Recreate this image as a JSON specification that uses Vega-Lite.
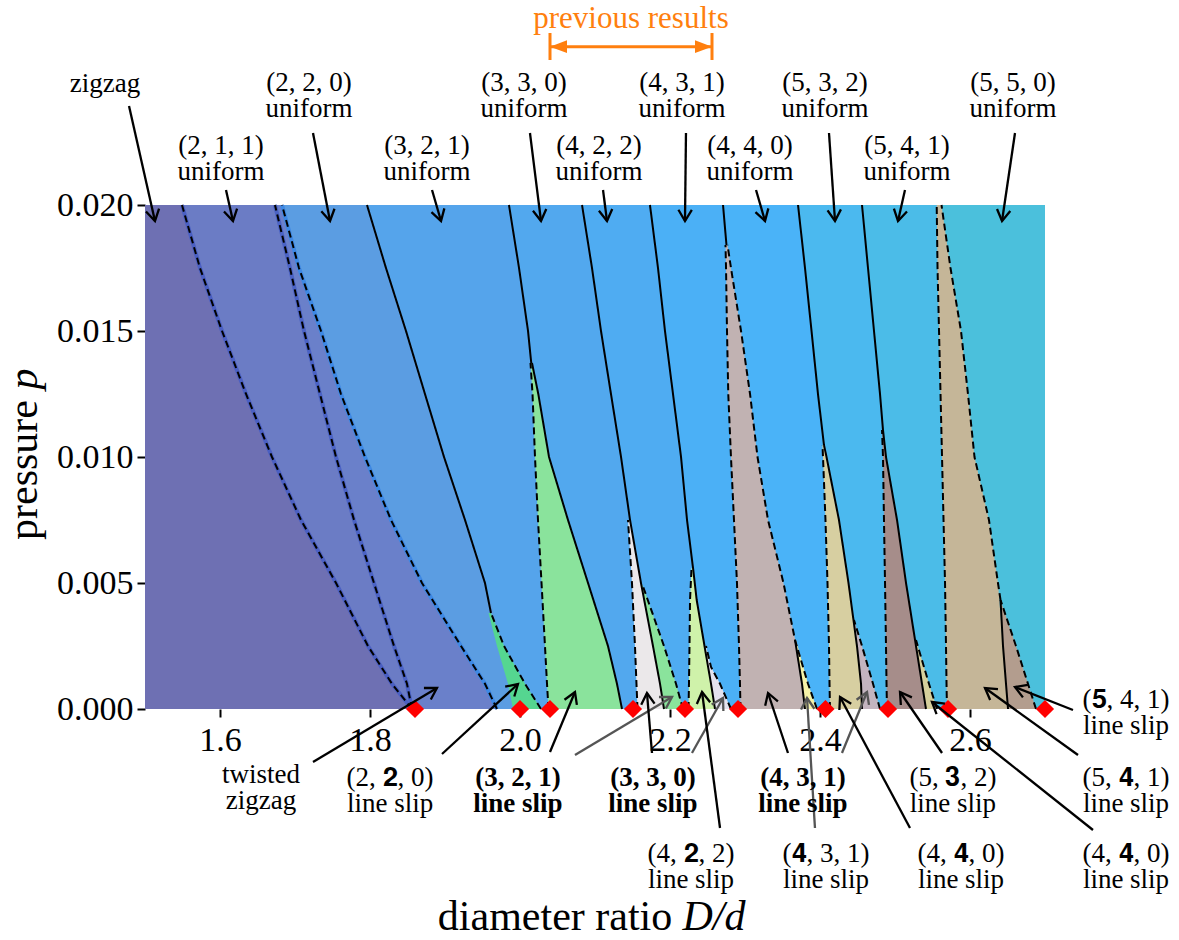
{
"$schema": "https://vega.github.io/schema/vega-lite/v6.json",
"width": 900, "height": 504,
"autosize": "none",
"padding": {"left": 145, "top": 205, "right": 134, "bottom": 231},
"background": "white",
"config": {"view": {"stroke": null, "fill": "#55a4eb"}},
"resolve": {"scale": {"color": "independent", "strokeDash": "independent"}},
"datasets": {
"bd": [
{"y":0.02,"b00":1.5,"b01":1.5493,"b02":1.6733,"b03":1.6827,"b04":1.796,"b05":1.9853,"b06":2.0827,"b07":2.1733,"b08":2.2707,"b09":2.3707,"b10":2.456,"b11":2.5556,"b12":2.7},
{"y":0.0175,"b00":1.5,"b01":1.5733,"b02":1.6933,"b03":1.7053,"b04":1.8213,"b05":1.9987,"b06":2.096,"b07":2.184,"b08":2.2747,"b09":2.38,"b10":2.464,"b11":2.5567,"b12":2.7},
{"y":0.015,"b00":1.5,"b01":1.6027,"b02":1.712,"b03":1.7347,"b04":1.848,"b05":2.0107,"b06":2.108,"b07":2.1933,"b08":2.276,"b09":2.3887,"b10":2.472,"b11":2.5587,"b12":2.7},
{"y":0.0125,"b00":1.5,"b01":1.6347,"b02":1.7333,"b03":1.7613,"b04":1.8733,"b05":2.024,"b06":2.1213,"b07":2.204,"b08":2.2777,"b09":2.3973,"b10":2.48,"b11":2.5607,"b12":2.7},
{"y":0.01,"b00":1.5,"b01":1.6693,"b02":1.7547,"b03":1.7933,"b04":1.8987,"b05":2.0387,"b06":2.1347,"b07":2.2147,"b08":2.2813,"b09":2.404,"b10":2.484,"b11":2.5627,"b12":2.7},
{"y":0.0075,"b00":1.5,"b01":1.708,"b02":1.7787,"b03":1.828,"b04":1.9267,"b05":2.064,"b06":2.1467,"b07":2.2227,"b08":2.2853,"b09":2.4073,"b10":2.4853,"b11":2.5647,"b12":2.7},
{"y":0.005,"b00":1.5,"b01":1.7547,"b02":1.8053,"b03":1.8693,"b04":1.9533,"b05":2.0907,"b06":2.1613,"b07":2.2327,"b08":2.2893,"b09":2.41,"b10":2.4867,"b11":2.5667,"b12":2.7},
{"y":0.0025,"b00":1.5,"b01":1.7973,"b02":1.832,"b03":1.9213,"b04":1.9787,"b05":2.1173,"b06":2.192,"b07":2.246,"b08":2.292,"b09":2.412,"b10":2.488,"b11":2.568,"b12":2.7},
{"y":0.001,"b00":1.5,"b01":1.8293,"b02":1.8493,"b03":1.9533,"b04":2.0067,"b05":2.1293,"b06":2.208,"b07":2.2547,"b08":2.2933,"b09":2.4127,"b10":2.4887,"b11":2.5687,"b12":2.7},
{"y":0,"b00":1.5,"b01":1.856,"b02":1.856,"b03":1.9693,"b04":2.028,"b05":2.136,"b06":2.2173,"b07":2.26,"b08":2.294,"b09":2.4133,"b10":2.4893,"b11":2.5693,"b12":2.7}
],
"sl": [
{"s":"s01","y":0.00381,"xl":1.958,"xr":1.9613},
{"s":"s01","y":0.0025,"xl":1.9693,"xr":1.9787},
{"s":"s01","y":0.001,"xl":1.984,"xr":2.0067},
{"s":"s01","y":0,"xl":1.9907,"xr":2.028},
{"s":"s02","y":0.01373,"xl":2.014,"xr":2.016},
{"s":"s02","y":0.0125,"xl":2.0167,"xr":2.0244},
{"s":"s02","y":0.01,"xl":2.02,"xr":2.0387},
{"s":"s02","y":0.0075,"xl":2.024,"xr":2.064},
{"s":"s02","y":0.005,"xl":2.0287,"xr":2.0907},
{"s":"s02","y":0.0025,"xl":2.0333,"xr":2.1173},
{"s":"s02","y":0.001,"xl":2.036,"xr":2.1293},
{"s":"s02","y":0,"xl":2.038,"xr":2.136},
{"s":"s03","y":0.0075,"xl":2.144,"xr":2.1467},
{"s":"s03","y":0.005,"xl":2.1493,"xr":2.1613},
{"s":"s03","y":0.0025,"xl":2.1533,"xr":2.1773},
{"s":"s03","y":0.001,"xl":2.1553,"xr":2.1867},
{"s":"s03","y":0,"xl":2.1567,"xr":2.192},
{"s":"s04","y":0.00492,"xl":2.1613,"xr":2.1633},
{"s":"s04","y":0.0025,"xl":2.1773,"xr":2.192},
{"s":"s04","y":0.001,"xl":2.1867,"xr":2.208},
{"s":"s04","y":0,"xl":2.192,"xr":2.2173},
{"s":"s05","y":0.005595,"xl":2.2287,"xr":2.2307},
{"s":"s05","y":0.004325,"xl":2.2267,"xr":2.2356},
{"s":"s05","y":0.0025,"xl":2.226,"xr":2.246},
{"s":"s05","y":0.001,"xl":2.2253,"xr":2.2547},
{"s":"s05","y":0,"xl":2.2247,"xr":2.26},
{"s":"s06","y":0.0025,"xl":2.246,"xr":2.248},
{"s":"s06","y":0.001667,"xl":2.2507,"xr":2.2547},
{"s":"s06","y":0.001,"xl":2.2547,"xr":2.2667},
{"s":"s06","y":0,"xl":2.26,"xr":2.2813},
{"s":"s07","y":0.018413,"xl":2.274,"xr":2.2767},
{"s":"s07","y":0.0175,"xl":2.2747,"xr":2.2813},
{"s":"s07","y":0.015,"xl":2.276,"xr":2.2947},
{"s":"s07","y":0.0125,"xl":2.2777,"xr":2.3067},
{"s":"s07","y":0.01,"xl":2.2813,"xr":2.3167},
{"s":"s07","y":0.0075,"xl":2.2853,"xr":2.3307},
{"s":"s07","y":0.005,"xl":2.2893,"xr":2.3513},
{"s":"s07","y":0.0025,"xl":2.292,"xr":2.3687},
{"s":"s07","y":0.001,"xl":2.2933,"xr":2.376},
{"s":"s07","y":0,"xl":2.294,"xr":2.38},
{"s":"s08","y":0.002738,"xl":2.3667,"xr":2.368},
{"s":"s08","y":0.001,"xl":2.376,"xr":2.384},
{"s":"s08","y":0,"xl":2.38,"xr":2.396},
{"s":"s09","y":0.010476,"xl":2.4033,"xr":2.4053},
{"s":"s09","y":0.01,"xl":2.404,"xr":2.4087},
{"s":"s09","y":0.0075,"xl":2.4073,"xr":2.4253},
{"s":"s09","y":0.005,"xl":2.41,"xr":2.438},
{"s":"s09","y":0.0025,"xl":2.412,"xr":2.4493},
{"s":"s09","y":0.001,"xl":2.4127,"xr":2.4547},
{"s":"s09","y":0,"xl":2.4133,"xr":2.456},
{"s":"s10","y":0.003532,"xl":2.444,"xr":2.4453},
{"s":"s10","y":0.0025,"xl":2.4493,"xr":2.456},
{"s":"s10","y":0.001,"xl":2.4547,"xr":2.4707},
{"s":"s10","y":0,"xl":2.456,"xr":2.48},
{"s":"s11","y":0.011071,"xl":2.4827,"xr":2.484},
{"s":"s11","y":0.01,"xl":2.484,"xr":2.488},
{"s":"s11","y":0.0075,"xl":2.4853,"xr":2.5027},
{"s":"s11","y":0.005,"xl":2.4867,"xr":2.5147},
{"s":"s11","y":0.0025,"xl":2.488,"xr":2.528},
{"s":"s11","y":0.001,"xl":2.4887,"xr":2.536},
{"s":"s11","y":0,"xl":2.4893,"xr":2.5413},
{"s":"s12","y":0.002738,"xl":2.5267,"xr":2.528},
{"s":"s12","y":0.001,"xl":2.536,"xr":2.5453},
{"s":"s12","y":0,"xl":2.5413,"xr":2.556},
{"s":"s13","y":0.02,"xl":2.5556,"xr":2.562},
{"s":"s13","y":0.0175,"xl":2.5567,"xr":2.574},
{"s":"s13","y":0.015,"xl":2.5587,"xr":2.588},
{"s":"s13","y":0.0125,"xl":2.5607,"xr":2.5973},
{"s":"s13","y":0.01,"xl":2.5627,"xr":2.606},
{"s":"s13","y":0.0075,"xl":2.5647,"xr":2.6253},
{"s":"s13","y":0.005,"xl":2.5667,"xr":2.6373},
{"s":"s13","y":0.0025,"xl":2.568,"xr":2.644},
{"s":"s13","y":0.001,"xl":2.5687,"xr":2.648},
{"s":"s13","y":0,"xl":2.5693,"xr":2.6507},
{"s":"s14","y":0.004325,"xl":2.6393,"xr":2.6407},
{"s":"s14","y":0.0025,"xl":2.644,"xr":2.6613},
{"s":"s14","y":0.001,"xl":2.648,"xr":2.6773},
{"s":"s14","y":0,"xl":2.6507,"xr":2.688}
],
"ln": [
{"id":"L4","k":"s","x":1.796,"y":0.02},{"id":"L4","k":"s","x":1.8213,"y":0.0175},{"id":"L4","k":"s","x":1.848,"y":0.015},{"id":"L4","k":"s","x":1.8733,"y":0.0125},{"id":"L4","k":"s","x":1.8987,"y":0.01},{"id":"L4","k":"s","x":1.9267,"y":0.0075},{"id":"L4","k":"s","x":1.9533,"y":0.005},{"id":"L4","k":"s","x":1.9613,"y":0.00381},
{"id":"L4b","k":"d","x":1.9613,"y":0.00381},{"id":"L4b","k":"d","x":1.9787,"y":0.0025},{"id":"L4b","k":"d","x":2.0067,"y":0.001},{"id":"L4b","k":"d","x":2.028,"y":0},
{"id":"L5","k":"s","x":1.9853,"y":0.02},{"id":"L5","k":"s","x":1.9987,"y":0.0175},{"id":"L5","k":"s","x":2.0107,"y":0.015},{"id":"L5","k":"s","x":2.015,"y":0.01373},
{"id":"L5a","k":"d","x":2.014,"y":0.01373},{"id":"L5a","k":"d","x":2.0167,"y":0.0125},{"id":"L5a","k":"d","x":2.02,"y":0.01},{"id":"L5a","k":"d","x":2.024,"y":0.0075},{"id":"L5a","k":"d","x":2.0287,"y":0.005},{"id":"L5a","k":"d","x":2.0333,"y":0.0025},{"id":"L5a","k":"d","x":2.036,"y":0.001},{"id":"L5a","k":"d","x":2.038,"y":0},
{"id":"L5b","k":"s","x":2.016,"y":0.01373},{"id":"L5b","k":"s","x":2.0244,"y":0.0125},{"id":"L5b","k":"s","x":2.0387,"y":0.01},{"id":"L5b","k":"s","x":2.064,"y":0.0075},{"id":"L5b","k":"s","x":2.0907,"y":0.005},{"id":"L5b","k":"s","x":2.1173,"y":0.0025},{"id":"L5b","k":"s","x":2.1293,"y":0.001},{"id":"L5b","k":"s","x":2.136,"y":0},
{"id":"L6","k":"s","x":2.0827,"y":0.02},{"id":"L6","k":"s","x":2.096,"y":0.0175},{"id":"L6","k":"s","x":2.108,"y":0.015},{"id":"L6","k":"s","x":2.1213,"y":0.0125},{"id":"L6","k":"s","x":2.1347,"y":0.01},{"id":"L6","k":"s","x":2.1467,"y":0.0075},{"id":"L6","k":"s","x":2.1613,"y":0.005},{"id":"L6","k":"s","x":2.1773,"y":0.0025},{"id":"L6","k":"s","x":2.1867,"y":0.001},{"id":"L6","k":"s","x":2.192,"y":0},
{"id":"L6a","k":"d","x":2.144,"y":0.0075},{"id":"L6a","k":"d","x":2.1493,"y":0.005},{"id":"L6a","k":"d","x":2.1533,"y":0.0025},{"id":"L6a","k":"d","x":2.1553,"y":0.001},{"id":"L6a","k":"d","x":2.1567,"y":0},
{"id":"L6b","k":"d","x":2.1633,"y":0.00492},{"id":"L6b","k":"d","x":2.192,"y":0.0025},{"id":"L6b","k":"d","x":2.208,"y":0.001},{"id":"L6b","k":"d","x":2.2173,"y":0},
{"id":"L7","k":"s","x":2.1733,"y":0.02},{"id":"L7","k":"s","x":2.184,"y":0.0175},{"id":"L7","k":"s","x":2.1933,"y":0.015},{"id":"L7","k":"s","x":2.204,"y":0.0125},{"id":"L7","k":"s","x":2.2147,"y":0.01},{"id":"L7","k":"s","x":2.2227,"y":0.0075},{"id":"L7","k":"s","x":2.2307,"y":0.005595},{"id":"L7","k":"s","x":2.2356,"y":0.004325},{"id":"L7","k":"s","x":2.246,"y":0.0025},{"id":"L7","k":"s","x":2.2547,"y":0.001},{"id":"L7","k":"s","x":2.26,"y":0},
{"id":"L7a","k":"d","x":2.2287,"y":0.005595},{"id":"L7a","k":"d","x":2.2267,"y":0.004325},{"id":"L7a","k":"d","x":2.226,"y":0.0025},{"id":"L7a","k":"d","x":2.2253,"y":0.001},{"id":"L7a","k":"d","x":2.2247,"y":0},
{"id":"L7b","k":"d","x":2.248,"y":0.0025},{"id":"L7b","k":"d","x":2.2547,"y":0.001667},{"id":"L7b","k":"d","x":2.2667,"y":0.001},{"id":"L7b","k":"d","x":2.2813,"y":0},
{"id":"L8","k":"s","x":2.2707,"y":0.02},{"id":"L8","k":"s","x":2.2753,"y":0.018413},
{"id":"L8a","k":"d","x":2.274,"y":0.018413},{"id":"L8a","k":"d","x":2.2747,"y":0.0175},{"id":"L8a","k":"d","x":2.276,"y":0.015},{"id":"L8a","k":"d","x":2.2777,"y":0.0125},{"id":"L8a","k":"d","x":2.2813,"y":0.01},{"id":"L8a","k":"d","x":2.2853,"y":0.0075},{"id":"L8a","k":"d","x":2.2893,"y":0.005},{"id":"L8a","k":"d","x":2.292,"y":0.0025},{"id":"L8a","k":"d","x":2.2933,"y":0.001},{"id":"L8a","k":"d","x":2.294,"y":0},
{"id":"L8b","k":"d","x":2.2767,"y":0.018413},{"id":"L8b","k":"d","x":2.2813,"y":0.0175},{"id":"L8b","k":"d","x":2.2947,"y":0.015},{"id":"L8b","k":"d","x":2.3067,"y":0.0125},{"id":"L8b","k":"d","x":2.3167,"y":0.01},{"id":"L8b","k":"d","x":2.3307,"y":0.0075},{"id":"L8b","k":"d","x":2.3513,"y":0.005},{"id":"L8b","k":"d","x":2.3667,"y":0.002738},{"id":"L8b","k":"d","x":2.384,"y":0.001},{"id":"L8b","k":"d","x":2.396,"y":0},
{"id":"L8c","k":"s","x":2.3667,"y":0.002738},{"id":"L8c","k":"s","x":2.376,"y":0.001},{"id":"L8c","k":"s","x":2.38,"y":0},
{"id":"L9","k":"s","x":2.3707,"y":0.02},{"id":"L9","k":"s","x":2.38,"y":0.0175},{"id":"L9","k":"s","x":2.3887,"y":0.015},{"id":"L9","k":"s","x":2.3973,"y":0.0125},{"id":"L9","k":"s","x":2.4053,"y":0.010476},{"id":"L9","k":"s","x":2.4087,"y":0.01},{"id":"L9","k":"s","x":2.4253,"y":0.0075},{"id":"L9","k":"s","x":2.438,"y":0.005},{"id":"L9","k":"s","x":2.4493,"y":0.0025},{"id":"L9","k":"s","x":2.4547,"y":0.001},{"id":"L9","k":"s","x":2.456,"y":0},
{"id":"L9a","k":"d","x":2.4033,"y":0.010476},{"id":"L9a","k":"d","x":2.404,"y":0.01},{"id":"L9a","k":"d","x":2.4073,"y":0.0075},{"id":"L9a","k":"d","x":2.41,"y":0.005},{"id":"L9a","k":"d","x":2.412,"y":0.0025},{"id":"L9a","k":"d","x":2.4127,"y":0.001},{"id":"L9a","k":"d","x":2.4133,"y":0},
{"id":"L9b","k":"d","x":2.4453,"y":0.003532},{"id":"L9b","k":"d","x":2.456,"y":0.0025},{"id":"L9b","k":"d","x":2.4707,"y":0.001},{"id":"L9b","k":"d","x":2.48,"y":0},
{"id":"L10","k":"s","x":2.456,"y":0.02},{"id":"L10","k":"s","x":2.464,"y":0.0175},{"id":"L10","k":"s","x":2.472,"y":0.015},{"id":"L10","k":"s","x":2.48,"y":0.0125},{"id":"L10","k":"s","x":2.484,"y":0.011071},{"id":"L10","k":"s","x":2.488,"y":0.01},{"id":"L10","k":"s","x":2.5027,"y":0.0075},{"id":"L10","k":"s","x":2.5147,"y":0.005},{"id":"L10","k":"s","x":2.528,"y":0.0025},{"id":"L10","k":"s","x":2.536,"y":0.001},{"id":"L10","k":"s","x":2.5413,"y":0},
{"id":"L10a","k":"d","x":2.4827,"y":0.011071},{"id":"L10a","k":"d","x":2.484,"y":0.01},{"id":"L10a","k":"d","x":2.4853,"y":0.0075},{"id":"L10a","k":"d","x":2.4867,"y":0.005},{"id":"L10a","k":"d","x":2.488,"y":0.0025},{"id":"L10a","k":"d","x":2.4887,"y":0.001},{"id":"L10a","k":"d","x":2.4893,"y":0},
{"id":"L10b","k":"d","x":2.528,"y":0.002738},{"id":"L10b","k":"d","x":2.5453,"y":0.001},{"id":"L10b","k":"d","x":2.556,"y":0},
{"id":"L11a","k":"d","x":2.5556,"y":0.02},{"id":"L11a","k":"d","x":2.5567,"y":0.0175},{"id":"L11a","k":"d","x":2.5587,"y":0.015},{"id":"L11a","k":"d","x":2.5607,"y":0.0125},{"id":"L11a","k":"d","x":2.5627,"y":0.01},{"id":"L11a","k":"d","x":2.5647,"y":0.0075},{"id":"L11a","k":"d","x":2.5667,"y":0.005},{"id":"L11a","k":"d","x":2.568,"y":0.0025},{"id":"L11a","k":"d","x":2.5687,"y":0.001},{"id":"L11a","k":"d","x":2.5693,"y":0},
{"id":"L11b","k":"d","x":2.562,"y":0.02},{"id":"L11b","k":"d","x":2.574,"y":0.0175},{"id":"L11b","k":"d","x":2.588,"y":0.015},{"id":"L11b","k":"d","x":2.5973,"y":0.0125},{"id":"L11b","k":"d","x":2.606,"y":0.01},{"id":"L11b","k":"d","x":2.6253,"y":0.0075},{"id":"L11b","k":"d","x":2.6373,"y":0.005},{"id":"L11b","k":"d","x":2.6407,"y":0.004325},
{"id":"L11c","k":"s","x":2.6407,"y":0.004325},{"id":"L11c","k":"s","x":2.644,"y":0.0025},{"id":"L11c","k":"s","x":2.648,"y":0.001},{"id":"L11c","k":"s","x":2.6507,"y":0},
{"id":"L11d","k":"d","x":2.6407,"y":0.004325},{"id":"L11d","k":"d","x":2.6613,"y":0.0025},{"id":"L11d","k":"d","x":2.6773,"y":0.001},{"id":"L11d","k":"d","x":2.688,"y":0}
],
"dm": [{"x":1.86},{"x":2.0},{"x":2.04},{"x":2.1507},{"x":2.22},{"x":2.2907},{"x":2.4073},{"x":2.4907},{"x":2.5707},{"x":2.7}],
"arr": [
{"x":1.4787,"y":0.023929,"x2":1.5133,"y2":0.019365,"c":"k"},
{"x":1.608,"y":0.020595,"x2":1.6173,"y2":0.019365,"c":"k"},
{"x":1.724,"y":0.022857,"x2":1.7467,"y2":0.019365,"c":"k"},
{"x":1.8827,"y":0.020595,"x2":1.8947,"y2":0.019365,"c":"k"},
{"x":2.0133,"y":0.022857,"x2":2.028,"y2":0.019365,"c":"k"},
{"x":2.1107,"y":0.020595,"x2":2.116,"y2":0.019365,"c":"k"},
{"x":2.2213,"y":0.022857,"x2":2.22,"y2":0.019365,"c":"k"},
{"x":2.3147,"y":0.020595,"x2":2.3267,"y2":0.019365,"c":"k"},
{"x":2.412,"y":0.022857,"x2":2.42,"y2":0.019365,"c":"k"},
{"x":2.5133,"y":0.020595,"x2":2.504,"y2":0.019365,"c":"k"},
{"x":2.66,"y":0.022857,"x2":2.6427,"y2":0.019365,"c":"k"},
{"x":1.724,"y":-0.002103,"x2":1.8893,"y2":0.000833,"c":"k"},
{"x":1.896,"y":-0.001786,"x2":1.9973,"y2":0.000992,"c":"k"},
{"x":2.04,"y":-0.001706,"x2":2.0733,"y2":0.000675,"c":"k"},
{"x":2.0733,"y":-0.001825,"x2":2.2027,"y2":0.000476,"c":"g"},
{"x":2.176,"y":-0.001746,"x2":2.1693,"y2":0.000635,"c":"k"},
{"x":2.2293,"y":-0.001746,"x2":2.2707,"y2":0.000437,"c":"g"},
{"x":2.3573,"y":-0.001746,"x2":2.3307,"y2":0.000635,"c":"k"},
{"x":2.4293,"y":-0.001746,"x2":2.4627,"y2":0.000675,"c":"g"},
{"x":2.5627,"y":-0.001746,"x2":2.5067,"y2":0.000675,"c":"k"},
{"x":2.744,"y":-0.001825,"x2":2.62,"y2":0.000833,"c":"k"},
{"x":2.7373,"y":-0.00004,"x2":2.66,"y2":0.000873,"c":"k"},
{"x":2.2667,"y":-0.004722,"x2":2.2427,"y2":0.000675,"c":"k"},
{"x":2.3933,"y":-0.004722,"x2":2.3827,"y2":0.000437,"c":"g"},
{"x":2.52,"y":-0.004722,"x2":2.4267,"y2":0.000476,"c":"k"},
{"x":2.764,"y":-0.004802,"x2":2.5493,"y2":0.000278,"c":"k"}
],
"top": [
{"x":1.4467,"y":0.024484,"t":["zigzag"]},
{"x":1.6013,"y":0.022024,"t":["(2, 1, 1)","uniform"]},
{"x":1.7187,"y":0.024524,"t":["(2, 2, 0)","uniform"]},
{"x":1.876,"y":0.022024,"t":["(3, 2, 1)","uniform"]},
{"x":2.0053,"y":0.024524,"t":["(3, 3, 0)","uniform"]},
{"x":2.1053,"y":0.022024,"t":["(4, 2, 2)","uniform"]},
{"x":2.216,"y":0.024524,"t":["(4, 3, 1)","uniform"]},
{"x":2.3067,"y":0.022024,"t":["(4, 4, 0)","uniform"]},
{"x":2.4067,"y":0.024524,"t":["(5, 3, 2)","uniform"]},
{"x":2.516,"y":0.022024,"t":["(5, 4, 1)","uniform"]},
{"x":2.6573,"y":0.024524,"t":["(5, 5, 0)","uniform"]}
],
"bot": [
{"x":1.6547,"y":-0.002937,"t":["twisted","zigzag"],"w":"n"},
{"x":1.8267,"y":-0.003056,"t":["(2, \ud835\udfd0, 0)","line slip"],"w":"n"},
{"x":1.9973,"y":-0.003056,"t":["(3, 2, 1)","line slip"],"w":"b"},
{"x":2.1773,"y":-0.003056,"t":["(3, 3, 0)","line slip"],"w":"b"},
{"x":2.3773,"y":-0.003056,"t":["(4, 3, 1)","line slip"],"w":"b"},
{"x":2.5773,"y":-0.003056,"t":["(5, \ud835\udfd1, 2)","line slip"],"w":"n"},
{"x":2.808,"y":-0.003056,"t":["(5, \ud835\udfd2, 1)","line slip"],"w":"n"},
{"x":2.808,"y":0.00004,"t":["(\ud835\udfd3, 4, 1)","line slip"],"w":"n"},
{"x":2.228,"y":-0.00606,"t":["(4, \ud835\udfd0, 2)","line slip"],"w":"n"},
{"x":2.408,"y":-0.00606,"t":["(\ud835\udfd2, 3, 1)","line slip"],"w":"n"},
{"x":2.588,"y":-0.00606,"t":["(4, \ud835\udfd2, 0)","line slip"],"w":"n"},
{"x":2.808,"y":-0.00606,"t":["(4, \ud835\udfd2, 0)","line slip"],"w":"n"}
],
"org": [{"x":2.04,"y":0.026282,"side":"L"},{"x":2.256,"y":0.026282,"side":"R"}],
"ttl": [
{"x":2.0467,"y":-0.00877,"t":"diameter ratio","st":"normal"},
{"x":2.2587,"y":-0.00877,"t":"D/d","st":"italic"}
],
"ttly": [
{"x":1.356,"y":0.009484,"t":"pressure","st":"normal"},
{"x":1.356,"y":0.013095,"t":"p","st":"italic"}
]
},
"layer": [
{
"data": {"name": "bd"},
"transform": [
{"fold": ["b00","b01","b02","b03","b04","b05","b06","b07","b08","b09","b10","b11","b12"], "as": ["b","xa"]},
{"window": [{"op": "lead", "field": "xa", "as": "xb"}], "groupby": ["y"], "sort": [{"field": "b", "order": "ascending"}]},
{"filter": "datum.xb != null"},
{"fold": ["xa","xb"], "as": ["side","px"]},
{"calculate": "datum.side == 'xa' ? -datum.y : 1 + datum.y", "as": "o"}
],
"mark": {"type": "line", "filled": true, "opacity": 1, "strokeWidth": 0},
"encoding": {
"y": {"field": "y", "type": "quantitative", "scale": {"domain": [0, 0.02], "nice": false, "zero": false},
"axis": {"values": [0, 0.005, 0.01, 0.015, 0.02], "format": ".3f", "title": null, "domain": false, "grid": false, "tickSize": 8, "tickWidth": 2, "tickColor": "black", "labelFont": "Liberation Serif", "labelFontSize": 34, "labelColor": "black", "labelPadding": 4, "labelFlush": false, "labelOverlap": false}},
"x": {"field": "px", "type": "quantitative", "scale": {"domain": [1.5, 2.7], "nice": false, "zero": false},
"axis": {"values": [1.6, 1.8, 2.0, 2.2, 2.4, 2.6], "format": ".1f", "title": null, "domain": false, "grid": false, "tickSize": 8, "tickWidth": 2, "tickColor": "black", "labelFont": "Liberation Serif", "labelFontSize": 34, "labelColor": "black", "labelPadding": 6, "labelFlush": false, "labelOverlap": false}},
"order": {"field": "o", "type": "quantitative"},
"color": {"field": "b", "type": "nominal", "legend": null,
"scale": {"domain": ["b00","b01","b02","b03","b04","b05","b06","b07","b08","b09","b10","b11"],
"range": ["#6e70b3","#6b7cc5","#6a80ca","#5b9de2","#55a4eb","#52a8ee","#4facf2","#4bb0f6","#4ab3f8","#4bb9ef","#4bbce8","#4bc0dc"]}}
}
},
{
"data": {"name": "sl"},
"transform": [
{"fold": ["xl","xr"], "as": ["side","px"]},
{"calculate": "datum.side == 'xl' ? -datum.y : 1 + datum.y", "as": "o"}
],
"mark": {"type": "line", "filled": true, "opacity": 1, "strokeWidth": 0},
"encoding": {
"y": {"field": "y", "type": "quantitative", "scale": {"domain": [0, 0.02]}},
"x": {"field": "px", "type": "quantitative", "scale": {"domain": [1.5, 2.7]}},
"order": {"field": "o", "type": "quantitative"},
"color": {"field": "s", "type": "nominal", "legend": null,
"scale": {"domain": ["s01","s02","s03","s04","s05","s06","s07","s08","s09","s10","s11","s12","s13","s14"],
"range": ["#55d690","#8ae39c","#ebe8ea","#8ae39c","#cff2aa","#e4e2ee","#c1b2b2","#f6f3a8","#d7cfa1","#c3b4bf","#a68d8a","#d6cf9c","#c5b698","#b39d8e"]}}
}
},
{
"data": {"name": "bd"},
"transform": [{"fold": ["b01","b02","b03"], "as": ["b","x"]}],
"mark": {"type": "line", "strokeWidth": 4},
"encoding": {
"y": {"field": "y", "type": "quantitative", "scale": {"domain": [0, 0.02]}},
"x": {"field": "x", "type": "quantitative", "scale": {"domain": [1.5, 2.7]}},
"order": {"field": "y", "type": "quantitative"},
"color": {"field": "b", "type": "nominal", "legend": null, "scale": {"domain": ["b01","b02","b03"], "range": ["#4a5fc2","#4a62c4","#3d88e4"]}}
}
},
{
"data": {"name": "bd"},
"transform": [{"fold": ["b01","b02","b03"], "as": ["b","x"]}],
"mark": {"type": "line", "strokeWidth": 2, "color": "black", "strokeDash": [7, 4]},
"encoding": {
"y": {"field": "y", "type": "quantitative", "scale": {"domain": [0, 0.02]}},
"x": {"field": "x", "type": "quantitative", "scale": {"domain": [1.5, 2.7]}},
"order": {"field": "y", "type": "quantitative"},
"detail": {"field": "b"}
}
},
{
"data": {"name": "ln"},
"mark": {"type": "line", "strokeWidth": 2, "color": "black"},
"encoding": {
"y": {"field": "y", "type": "quantitative", "scale": {"domain": [0, 0.02]}},
"x": {"field": "x", "type": "quantitative", "scale": {"domain": [1.5, 2.7]}},
"order": {"field": "y", "type": "quantitative"},
"detail": {"field": "id"},
"strokeDash": {"field": "k", "type": "nominal", "legend": null, "scale": {"domain": ["s","d"], "range": [[1,0],[7,4]]}}
}
},
{"mark": {"type": "rule", "strokeWidth": 2, "color": "black"}, "encoding": {"y": {"datum": 0.02, "type": "quantitative", "scale": {"domain": [0, 0.02]}}}},
{"mark": {"type": "rule", "strokeWidth": 2, "color": "black"}, "encoding": {"y": {"datum": 0, "type": "quantitative", "scale": {"domain": [0, 0.02]}}}},
{"mark": {"type": "rule", "strokeWidth": 2, "color": "black"}, "encoding": {"x": {"datum": 1.5, "type": "quantitative", "scale": {"domain": [1.5, 2.7]}}}},
{"mark": {"type": "rule", "strokeWidth": 2, "color": "black"}, "encoding": {"x": {"datum": 2.7, "type": "quantitative", "scale": {"domain": [1.5, 2.7]}}}},
{
"data": {"name": "dm"},
"mark": {"type": "point", "shape": "diamond", "filled": true, "color": "#ff0000", "size": 330, "opacity": 1},
"encoding": {
"x": {"field": "x", "type": "quantitative", "scale": {"domain": [1.5, 2.7]}},
"y": {"datum": 0, "type": "quantitative", "scale": {"domain": [0, 0.02]}}
}
},
{
"data": {"name": "arr"},
"mark": {"type": "rule", "strokeWidth": 2.3},
"encoding": {
"x": {"field": "x", "type": "quantitative", "scale": {"domain": [1.5, 2.7]}},
"y": {"field": "y", "type": "quantitative", "scale": {"domain": [0, 0.02]}},
"x2": {"field": "x2"},
"y2": {"field": "y2"},
"color": {"field": "c", "type": "nominal", "legend": null, "scale": {"domain": ["k","g"], "range": ["#000000","#555555"]}}
}
},
{
"data": {"name": "arr"},
"transform": [{"calculate": "atan2((datum.x2 - datum.x) * 750, (datum.y2 - datum.y) * 25200) * 180 / PI", "as": "ang"}],
"mark": {"type": "point", "shape": "M-0.75,1.25L0,0L0.75,1.25", "filled": false, "size": 320, "strokeWidth": 2.3, "opacity": 1},
"encoding": {
"x": {"field": "x2", "type": "quantitative", "scale": {"domain": [1.5, 2.7]}},
"y": {"field": "y2", "type": "quantitative", "scale": {"domain": [0, 0.02]}},
"angle": {"field": "ang", "type": "quantitative", "scale": null},
"color": {"field": "c", "type": "nominal", "legend": null, "scale": {"domain": ["k","g"], "range": ["#000000","#555555"]}}
}
},
{
"data": {"name": "top"},
"mark": {"type": "text", "font": "Liberation Serif", "fontSize": 27, "lineHeight": 26, "align": "center", "baseline": "alphabetic", "color": "black"},
"encoding": {
"x": {"field": "x", "type": "quantitative", "scale": {"domain": [1.5, 2.7]}},
"y": {"field": "y", "type": "quantitative", "scale": {"domain": [0, 0.02]}},
"text": {"field": "t"}
}
},
{
"data": {"name": "bot"},
"transform": [{"filter": "datum.w == 'n'"}],
"mark": {"type": "text", "font": "Liberation Serif", "fontSize": 27, "lineHeight": 26, "align": "center", "baseline": "alphabetic", "color": "black"},
"encoding": {
"x": {"field": "x", "type": "quantitative", "scale": {"domain": [1.5, 2.7]}},
"y": {"field": "y", "type": "quantitative", "scale": {"domain": [0, 0.02]}},
"text": {"field": "t"}
}
},
{
"data": {"name": "bot"},
"transform": [{"filter": "datum.w == 'b'"}],
"mark": {"type": "text", "font": "Liberation Serif", "fontSize": 27, "fontWeight": "bold", "lineHeight": 26, "align": "center", "baseline": "alphabetic", "color": "black"},
"encoding": {
"x": {"field": "x", "type": "quantitative", "scale": {"domain": [1.5, 2.7]}},
"y": {"field": "y", "type": "quantitative", "scale": {"domain": [0, 0.02]}},
"text": {"field": "t"}
}
},
{
"data": {"name": "org"},
"mark": {"type": "line", "strokeWidth": 3, "color": "#ff7f0e"},
"encoding": {
"x": {"field": "x", "type": "quantitative", "scale": {"domain": [1.5, 2.7]}},
"y": {"field": "y", "type": "quantitative", "scale": {"domain": [0, 0.02]}}
}
},
{
"data": {"name": "org"},
"mark": {"type": "rule", "strokeWidth": 3, "color": "#ff7f0e"},
"encoding": {
"x": {"field": "x", "type": "quantitative", "scale": {"domain": [1.5, 2.7]}},
"y": {"datum": 0.025754, "type": "quantitative", "scale": {"domain": [0, 0.02]}},
"y2": {"datum": 0.026825}
}
},
{
"data": {"name": "org"},
"transform": [{"filter": "datum.side == 'L'"}],
"mark": {"type": "point", "shape": "M0,0L2,-0.75L2,0.75Z", "filled": true, "size": 289, "color": "#ff7f0e", "opacity": 1},
"encoding": {
"x": {"field": "x", "type": "quantitative", "scale": {"domain": [1.5, 2.7]}},
"y": {"field": "y", "type": "quantitative", "scale": {"domain": [0, 0.02]}}
}
},
{
"data": {"name": "org"},
"transform": [{"filter": "datum.side == 'R'"}],
"mark": {"type": "point", "shape": "M0,0L-2,-0.75L-2,0.75Z", "filled": true, "size": 289, "color": "#ff7f0e", "opacity": 1},
"encoding": {
"x": {"field": "x", "type": "quantitative", "scale": {"domain": [1.5, 2.7]}},
"y": {"field": "y", "type": "quantitative", "scale": {"domain": [0, 0.02]}}
}
},
{
"data": {"values": [{"x": 2.148, "y": 0.027024, "t": "previous results"}]},
"mark": {"type": "text", "font": "Liberation Serif", "fontSize": 31, "align": "center", "baseline": "alphabetic", "color": "#ff7f0e"},
"encoding": {
"x": {"field": "x", "type": "quantitative", "scale": {"domain": [1.5, 2.7]}},
"y": {"field": "y", "type": "quantitative", "scale": {"domain": [0, 0.02]}},
"text": {"field": "t"}
}
},
{
"data": {"name": "ttl"},
"transform": [{"filter": "datum.st == 'normal'"}],
"mark": {"type": "text", "font": "Liberation Serif", "fontSize": 42, "align": "center", "baseline": "alphabetic", "color": "black"},
"encoding": {
"x": {"field": "x", "type": "quantitative", "scale": {"domain": [1.5, 2.7]}},
"y": {"field": "y", "type": "quantitative", "scale": {"domain": [0, 0.02]}},
"text": {"field": "t"}
}
},
{
"data": {"name": "ttl"},
"transform": [{"filter": "datum.st == 'italic'"}],
"mark": {"type": "text", "font": "Liberation Serif", "fontSize": 42, "fontStyle": "italic", "align": "center", "baseline": "alphabetic", "color": "black"},
"encoding": {
"x": {"field": "x", "type": "quantitative", "scale": {"domain": [1.5, 2.7]}},
"y": {"field": "y", "type": "quantitative", "scale": {"domain": [0, 0.02]}},
"text": {"field": "t"}
}
},
{
"data": {"name": "ttly"},
"transform": [{"filter": "datum.st == 'normal'"}],
"mark": {"type": "text", "font": "Liberation Serif", "fontSize": 42, "angle": 270, "align": "center", "baseline": "alphabetic", "color": "black"},
"encoding": {
"x": {"field": "x", "type": "quantitative", "scale": {"domain": [1.5, 2.7]}},
"y": {"field": "y", "type": "quantitative", "scale": {"domain": [0, 0.02]}},
"text": {"field": "t"}
}
},
{
"data": {"name": "ttly"},
"transform": [{"filter": "datum.st == 'italic'"}],
"mark": {"type": "text", "font": "Liberation Serif", "fontSize": 42, "fontStyle": "italic", "angle": 270, "align": "center", "baseline": "alphabetic", "color": "black"},
"encoding": {
"x": {"field": "x", "type": "quantitative", "scale": {"domain": [1.5, 2.7]}},
"y": {"field": "y", "type": "quantitative", "scale": {"domain": [0, 0.02]}},
"text": {"field": "t"}
}
}
]
}
